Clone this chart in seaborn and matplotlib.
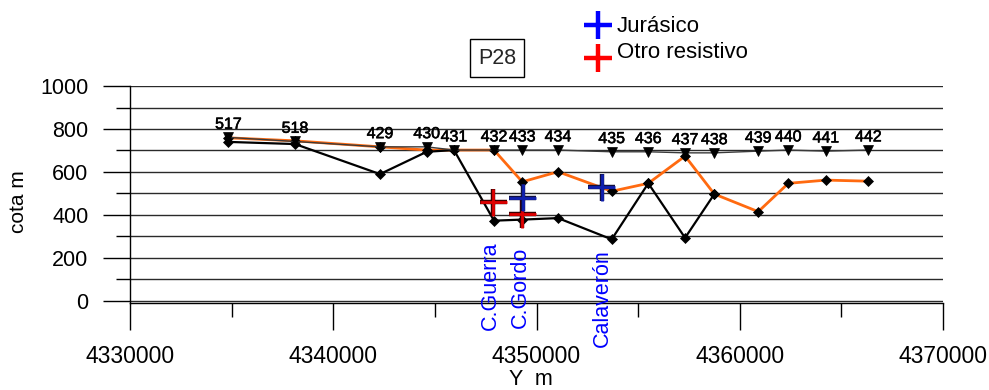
import matplotlib
matplotlib.use("Agg")
import matplotlib.pyplot as plt
import matplotlib.patheffects as pe
from matplotlib.lines import Line2D
from matplotlib.ticker import FixedLocator
import seaborn as sns

# Sondeos (SEV) a lo largo del perfil P28
stations = ["517", "518", "429", "430", "431", "432", "433", "434",
            "435", "436", "437", "438", "439", "440", "441", "442"]
y_utm = [4334840, 4338120, 4342300, 4344600, 4345940, 4347910, 4349300, 4351060,
         4353700, 4355500, 4357310, 4358750, 4360910, 4362390, 4364240, 4366330]
# cota del terreno en cada sondeo
station_cota = [761, 742, 717, 717, 702, 702, 702, 702,
                694, 694, 689, 689, 697, 702, 697, 702]
# techo del resistivo (negro) y base del conductor superior (naranja)
black_cota = [740, 730, 590, 694, 702, 373, 378, 385, 286, 547, 293, 497]
orange_cota = [759, 745, 717, 702, 702, 702, 554, 601,
               510, 547, 674, 497, 415, 547, 562, 557]

# sondeos mecánicos
jurasico_y = [4349320, 4353210]
jurasico_cota = [480, 528]
otro_y = [4347880, 4349290]
otro_cota = [458, 404]

sites = ["C.Guerra", "C.Gordo", "Calaverón"]
site_y = [4347750, 4349190, 4353240]
site_base = [-136, -127, -216]

x_ticks = [4330000, 4340000, 4350000, 4360000, 4370000]
y_ticks = [0, 200, 400, 600, 800, 1000]

sns.set_theme(style="white")
plt.rcParams["font.family"] = ["Liberation Sans", "DejaVu Sans"]

W, H = 989, 390
fig = plt.figure(figsize=(W / 100, H / 100), dpi=100)
ax = fig.add_axes([130 / W, 1 - 303.3 / H, (943 - 130) / W, (303.3 - 86) / H])

ax.set_xlim(4330000, 4370000)
ax.set_ylim(-12, 1000.5)

# horizontal grid every 100 m
ax.yaxis.set_major_locator(FixedLocator(y_ticks))
ax.yaxis.set_minor_locator(FixedLocator([100, 300, 500, 700, 900]))
ax.xaxis.set_major_locator(FixedLocator(x_ticks))
ax.xaxis.set_minor_locator(FixedLocator([4335000, 4345000, 4355000, 4365000]))
ax.set_xticklabels([str(v) for v in x_ticks])
ax.set_yticklabels([str(v) for v in y_ticks])
ax.grid(which="both", axis="y", color="#2a2a2a", lw=1.0, zorder=0)
ax.grid(False, axis="x", which="both")

for s in ("top", "right"):
    ax.spines[s].set_visible(False)
for s in ("left", "bottom"):
    ax.spines[s].set_color("black")
    ax.spines[s].set_linewidth(1.0)

ax.tick_params(axis="both", which="major", direction="out", length=19.4, width=1.0,
               color="black", labelcolor="black", pad=10.5,
               left=True, bottom=True)
ax.tick_params(axis="x", which="major", labelsize=16.5)
ax.tick_params(axis="y", which="major", labelsize=15.5)
ax.tick_params(axis="both", which="minor", direction="out", length=9.8, width=1.0,
               color="black", left=True, bottom=True)

# perfiles
sns.lineplot(x=y_utm, y=orange_cota, sort=False, color="#ff6a10", lw=2.0,
             marker="D", ms=4.8, mfc="black", mec="black", mew=0.5,
             ax=ax, zorder=3)
sns.lineplot(x=y_utm[:len(black_cota)], y=black_cota, sort=False, color="black",
             lw=1.6, marker="D", ms=4.8, mfc="black", mec="black", mew=0.5,
             ax=ax, zorder=4)
sns.lineplot(x=y_utm, y=station_cota, sort=False, color="#3a3a3a", lw=1.0,
             marker="v", ms=7, mfc="black", mec="black", mew=0.5,
             ax=ax, zorder=5)

for st, xv, yv in zip(stations, y_utm, station_cota):
    ax.annotate(st, (xv, yv), xytext=(0, 9.5), textcoords="offset points",
                ha="center", va="center", fontsize=11.5, color="black", zorder=6,
                path_effects=[pe.withStroke(linewidth=0.4, foreground="black")])

# cruces de sondeos mecánicos
ax.plot(otro_y, otro_cota, ls="none", marker="+", ms=19.5, mew=2.0, color="#e00000",
        zorder=7, path_effects=[pe.Stroke(linewidth=3.2, foreground="#3a0000"), pe.Normal()])
ax.plot(jurasico_y, jurasico_cota, ls="none", marker="+", ms=19.5, mew=2.0, color="#1020b0",
        zorder=7, path_effects=[pe.Stroke(linewidth=3.2, foreground="#101040"), pe.Normal()])

for name, xv, yb in zip(sites, site_y, site_base):
    ax.text(xv, yb, name, rotation=90, ha="center", va="bottom", fontsize=15.5,
            color="#0000ff", clip_on=False, zorder=8)

ax.set_xlabel("Y  m", fontsize=15.5, color="black")
ax.xaxis.set_label_coords((531 - 130) / 813, -(369 - 303.3) / 217.3)
ax.set_ylabel("cota m", fontsize=15, color="black")
ax.yaxis.set_label_coords((28 - 130) / 813, (303.3 - 202) / 217.3)

# título del perfil
fig.text(497 / W, 1 - 58 / H, "P28", ha="center", va="center", fontsize=15.5,
         bbox=dict(boxstyle="square,pad=0.38", fc="white", ec="black", lw=1.0))

# leyenda
legend_items = [("Jurásico", "#0000ff", 25, 26), ("Otro resistivo", "#ff0000", 58, 53)]
for label, col, my, ty in legend_items:
    fig.add_artist(Line2D([598 / W], [1 - my / H], marker="+", ms=19.5, mew=3.2,
                          color=col, transform=fig.transFigure))
    fig.text(617 / W, 1 - ty / H, label, ha="left", va="center", fontsize=16,
             color="black")

fig.savefig("out.png", dpi=100, facecolor="white")
